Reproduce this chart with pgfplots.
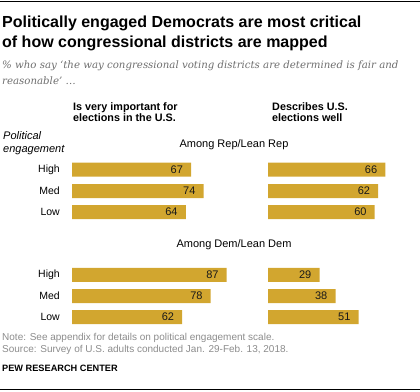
\documentclass[border=0pt]{standalone}
\usepackage{fontspec}
\setmainfont{Liberation Sans}
\newfontfamily\subfont{DejaVu Serif}
\usepackage{pgfplots}
\pgfplotsset{compat=1.18}
\definecolor{gold}{HTML}{D2A62F}
\definecolor{notegray}{HTML}{8C8C8C}
\definecolor{subgray}{HTML}{6E6E6E}
\pgfplotsset{
  panel/.style={
    scale only axis, width=177.8pt, height=391pt,
    xmin=0, xmax=100, ymin=0, ymax=391, y dir=reverse,
    anchor=north west, hide axis, clip=false,
    xbar, bar width=14pt,
    /pgf/number format/assume math mode=true,
    nodes near coords,
    nodes near coords style={anchor=east, xshift=-8pt, inner sep=0pt, font=\fontsize{11}{13}\selectfont, text=black!90},
  }
}
\begin{document}
\begin{tikzpicture}
\useasboundingbox (0pt,0pt) rectangle (420pt,-391pt);
\begin{scope}[x=1pt,y=-1pt]
\draw[line width=1pt] (0,1.5) -- (420,1.5);
\draw[line width=1pt] (0,389.5) -- (420,389.5);
\node[anchor=base west, inner sep=0pt, font=\fontsize{16}{20}\selectfont\bfseries] at (2,27.5) {Politically engaged Democrats are most critical};
\node[anchor=base west, inner sep=0pt, font=\fontsize{16}{20}\selectfont\bfseries] at (2,47) {of how congressional districts are mapped};
\node[anchor=base west, inner sep=0pt, font=\fontsize{10.2}{12}\subfont\itshape, text=subgray] at (2,68) {\% who say ‘the way congressional voting districts are determined is fair and};
\node[anchor=base west, inner sep=0pt, font=\fontsize{10.2}{12}\subfont\itshape, text=subgray] at (2,84) {reasonable’ …};
\node[anchor=base west, inner sep=0pt, font=\fontsize{10.8}{12}\selectfont\bfseries] at (73,110) {Is very important for};
\node[anchor=base west, inner sep=0pt, font=\fontsize{10.8}{12}\selectfont\bfseries] at (73,121.5) {elections in the U.S.};
\node[anchor=base west, inner sep=0pt, font=\fontsize{10.8}{12}\selectfont\bfseries] at (272,110) {Describes U.S.};
\node[anchor=base west, inner sep=0pt, font=\fontsize{10.8}{12}\selectfont\bfseries] at (272,121.5) {elections well};
\node[anchor=base west, inner sep=0pt, font=\fontsize{11}{13}\selectfont\itshape] at (3,139) {Political};
\node[anchor=base west, inner sep=0pt, font=\fontsize{11}{13}\selectfont\itshape] at (3,152.5) {engagement};
\node[anchor=base, inner sep=0pt, font=\fontsize{11}{13}\selectfont] at (234,147.5) {Among Rep/Lean Rep};
\node[anchor=base, inner sep=0pt, font=\fontsize{11}{13}\selectfont] at (234,247.5) {Among Dem/Lean Dem};
\foreach \lab/\yy in {High/169.7, Med/191, Low/212, High/274.8, Med/296, Low/317}{
  \node[anchor=east, inner sep=0pt, font=\fontsize{10.5}{12}\selectfont] at (60,\yy) {\lab};
}
\node[anchor=base west, inner sep=0pt, font=\fontsize{10}{12}\selectfont, text=notegray] at (2,340) {Note: See appendix for details on political engagement scale.};
\node[anchor=base west, inner sep=0pt, font=\fontsize{10}{12}\selectfont, text=notegray] at (2,352.5) {Source: Survey of U.S. adults conducted Jan. 29-Feb. 13, 2018.};
\node[anchor=base west, inner sep=0pt, font=\fontsize{9.2}{12}\selectfont\bfseries] at (2,371) {PEW RESEARCH CENTER};
\end{scope}
\begin{axis}[panel, at={(72pt,0pt)}]
\addplot[fill=gold, draw=none] coordinates {(67,169.7) (74,191) (64,212) (87,274.8) (78,296) (62,317)};
\end{axis}
\begin{axis}[panel, at={(268pt,0pt)}]
\addplot[fill=gold, draw=none] coordinates {(66,169.7) (62,191) (60,212) (29,274.8) (38,296) (51,317)};
\end{axis}
\end{tikzpicture}
\end{document}
